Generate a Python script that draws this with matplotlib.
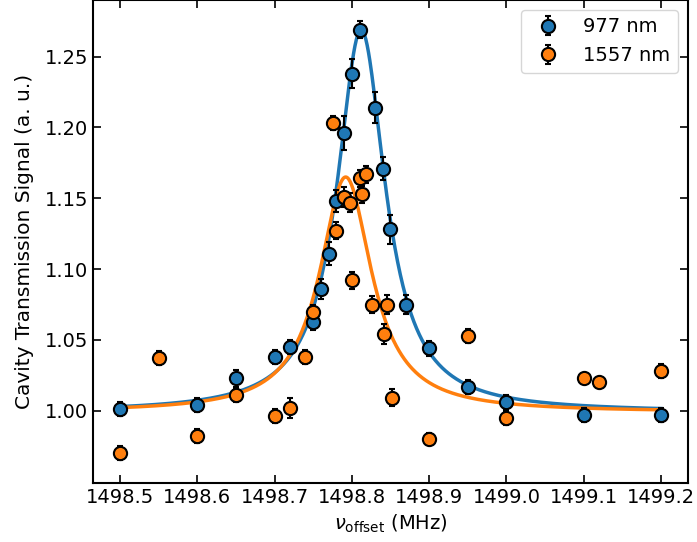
import numpy as np
import matplotlib
matplotlib.use("Agg")
import matplotlib.pyplot as plt

# 977 nm data
x_977 = [1498.50, 1498.60, 1498.65, 1498.70, 1498.72, 1498.75, 1498.76, 1498.77,
         1498.78, 1498.79, 1498.80, 1498.81, 1498.83, 1498.84, 1498.85, 1498.87,
         1498.90, 1498.95, 1499.00, 1499.10, 1499.20]
y_977 = [1.001, 1.004, 1.023, 1.038, 1.045, 1.063, 1.086, 1.111,
         1.148, 1.196, 1.238, 1.269, 1.214, 1.171, 1.128, 1.075,
         1.044, 1.017, 1.006, 0.997, 0.997]
e_977 = [0.005, 0.005, 0.006, 0.005, 0.005, 0.006, 0.007, 0.008,
         0.008, 0.012, 0.010, 0.006, 0.011, 0.008, 0.010, 0.007,
         0.005, 0.005, 0.005, 0.005, 0.005]

# 1557 nm data
x_1557 = [1498.50, 1498.55, 1498.60, 1498.65, 1498.70, 1498.72, 1498.74, 1498.75,
          1498.775, 1498.78, 1498.79, 1498.797, 1498.80, 1498.81, 1498.813, 1498.818,
          1498.826, 1498.841, 1498.846, 1498.852, 1498.90, 1498.95, 1499.00, 1499.10,
          1499.12, 1499.20]
y_1557 = [0.970, 1.037, 0.982, 1.011, 0.996, 1.002, 1.038, 1.070,
          1.203, 1.127, 1.151, 1.147, 1.092, 1.164, 1.153, 1.167,
          1.075, 1.054, 1.075, 1.009, 0.980, 1.053, 0.995, 1.023,
          1.020, 1.028]
e_1557 = [0.005, 0.005, 0.005, 0.005, 0.005, 0.007, 0.005, 0.005,
          0.005, 0.006, 0.007, 0.007, 0.006, 0.006, 0.006, 0.006,
          0.006, 0.007, 0.007, 0.006, 0.004, 0.005, 0.005, 0.004,
          0.004, 0.005]

# Lorentzian fit parameters: offset, amplitude, center, half-width
fit_977 = (0.999, 0.270, 1498.812, 0.038)
fit_1557 = (0.999, 0.166, 1498.792, 0.041)

def lorentz(x, c, a, x0, g):
    return c + a / (1 + ((x - x0) / g) ** 2)

fig = plt.figure(figsize=(6.97, 5.42), dpi=100)
ax = fig.add_axes([0.1334, 0.1089, 0.8537, 0.8911])

xf = np.linspace(min(x_977), max(x_977), 800)
c1, c2 = "#1f77b4", "#ff7f0e"
ax.plot(xf, lorentz(xf, *fit_977), color=c1, lw=2.5, zorder=2)
ax.plot(xf, lorentz(xf, *fit_1557), color=c2, lw=2.5, zorder=2)

ax.errorbar(x_977, y_977, yerr=e_977, fmt='o', color='black', ecolor='black',
            markerfacecolor=c1, markeredgecolor='black', markersize=9.5,
            markeredgewidth=1.5, elinewidth=1.5, capsize=2, capthick=1.5,
            label='977 nm', zorder=3)
ax.errorbar(x_1557, y_1557, yerr=e_1557, fmt='o', color='black', ecolor='black',
            markerfacecolor=c2, markeredgecolor='black', markersize=9.5,
            markeredgewidth=1.5, elinewidth=1.5, capsize=2, capthick=1.5,
            label='1557 nm', zorder=3)

ax.set_ylim(0.949, 1.290)
ax.set_xticks([1498.5, 1498.6, 1498.7, 1498.8, 1498.9, 1499.0, 1499.1, 1499.2])
ax.set_yticks([1.00, 1.05, 1.10, 1.15, 1.20, 1.25])
ax.tick_params(direction='in', top=True, right=True, labelsize=14, length=6, width=1.2)
for s in ax.spines.values():
    s.set_linewidth(1.5)
ax.set_xlabel(r'$\nu_{\rm offset}$ (MHz)', fontsize=14)
ax.set_ylabel('Cavity Transmission Signal (a. u.)', fontsize=14.5, labelpad=8)
ax.legend(loc='upper right', fontsize=14)

fig.savefig('out.png', dpi=100)
